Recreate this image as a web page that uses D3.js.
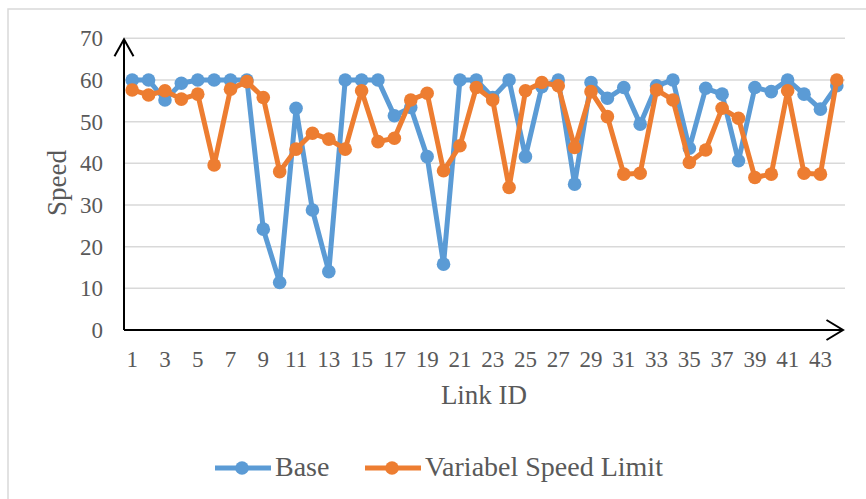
<!DOCTYPE html>
<html>
<head>
<meta charset="utf-8">
<script src="https://cdn.jsdelivr.net/npm/d3@7"></script>
<style>
  body { margin: 0; background: #fff; }
  text { font-family: "Liberation Serif", "Times New Roman", serif; fill: #595959; }
</style>
</head>
<body>
<div id="chart"></div>
<script>
// link ids and the two speed series
var linkIds = d3.range(1, 45);
var baseSpeed = [60, 60, 55.2, 59.2, 60, 60, 60, 60, 24.2, 11.4,
                 53.2, 28.8, 14, 60, 60, 60, 51.4, 53.4, 41.6, 15.8,
                 60, 60, 55.8, 60, 41.6, 58.4, 60, 35, 59.4, 55.6,
                 58.2, 49.4, 58.6, 60, 43.6, 58, 56.6, 40.6, 58.2, 57.2,
                 60, 56.6, 53, 58.6];
var vslSpeed = [57.6, 56.4, 57.4, 55.4, 56.6, 39.6, 57.8, 59.6, 55.8, 38,
                43.4, 47.2, 45.8, 43.4, 57.4, 45.2, 46, 55.2, 56.8, 38.2,
                44.2, 58.2, 55.2, 34.2, 57.4, 59.4, 58.6, 43.8, 57.2, 51.2,
                37.4, 37.6, 57.6, 55.2, 40.2, 43.2, 53.2, 50.8, 36.6, 37.4,
                57.4, 37.6, 37.4, 60];
var yTicks = [0, 10, 20, 30, 40, 50, 60, 70];
var xTicks = linkIds.filter(function(d) { return d % 2 == 1; });
var seriesNames = ["Base", "Variabel Speed Limit"];
var colors = ["#5B9BD5", "#ED7D31"];

var width = 866, height = 499;
var plotLeft = 124, plotRight = 845, plotTop = 38.3, plotBottom = 330;

var svg = d3.select("#chart").append("svg")
  .attr("width", width)
  .attr("height", height);

// chart border (runs off the right/bottom edge like the original)
svg.append("rect")
  .attr("x", 8).attr("y", 9)
  .attr("width", 900).attr("height", 520)
  .attr("fill", "none")
  .attr("stroke", "#d9d9d9")
  .attr("stroke-width", 1.5);

var x = d3.scaleBand().domain(linkIds).range([plotLeft, plotRight]);
var y = d3.scaleLinear().domain([0, 70]).range([plotBottom, plotTop]);
var cx = function(d) { return x(d) + x.bandwidth() / 2; };

// gridlines
svg.append("g").selectAll("line")
  .data(yTicks.slice(1))
  .enter().append("line")
  .attr("x1", plotLeft).attr("x2", plotRight)
  .attr("y1", function(d) { return y(d); })
  .attr("y2", function(d) { return y(d); })
  .attr("stroke", "#d9d9d9")
  .attr("stroke-width", 1.5);

// y tick labels
var yAxis = svg.append("g")
  .attr("transform", "translate(" + plotLeft + ",0)")
  .call(d3.axisLeft(y).tickValues(yTicks).tickSize(0).tickPadding(21));
yAxis.select(".domain").remove();
yAxis.selectAll("text")
  .style("font-size", "23px")
  .style("font-family", "Liberation Serif")
  .attr("fill", "#595959");

// x tick labels
var xAxis = svg.append("g")
  .attr("transform", "translate(0," + plotBottom + ")")
  .call(d3.axisBottom(x).tickValues(xTicks).tickSize(0).tickPadding(21));
xAxis.select(".domain").remove();
xAxis.selectAll("text")
  .style("font-size", "23px")
  .style("font-family", "Liberation Serif")
  .attr("fill", "#595959");

// axis lines with arrow heads
var axisG = svg.append("g")
  .attr("fill", "none")
  .attr("stroke", "#000")
  .attr("stroke-width", 2);
axisG.append("path")
  .attr("d", "M" + plotLeft + "," + plotBottom + "V" + (plotTop + 1));
axisG.append("path")
  .attr("d", "M" + (plotLeft - 9.5) + "," + (plotTop + 18) + "L" + plotLeft + "," + (plotTop + 1) + "L" + (plotLeft + 9.5) + "," + (plotTop + 18));
axisG.append("path")
  .attr("d", "M" + plotLeft + "," + plotBottom + "H" + 843);
axisG.append("path")
  .attr("d", "M" + 826.5 + "," + (plotBottom - 10) + "L" + 843 + "," + plotBottom + "L" + 826.5 + "," + (plotBottom + 10));

// series
var allSeries = [baseSpeed, vslSpeed];
var line = d3.line()
  .x(function(d, i) { return cx(linkIds[i]); })
  .y(function(d) { return y(d); });

allSeries.forEach(function(vals, s) {
  var g = svg.append("g");
  g.append("path")
    .datum(vals)
    .attr("d", line)
    .attr("fill", "none")
    .attr("stroke", colors[s])
    .attr("stroke-width", 5)
    .attr("stroke-linejoin", "round");
  g.selectAll("circle")
    .data(vals)
    .enter().append("circle")
    .attr("cx", function(d, i) { return cx(linkIds[i]); })
    .attr("cy", function(d) { return y(d); })
    .attr("r", 6.8)
    .attr("fill", colors[s]);
});

// axis titles
svg.append("text")
  .attr("x", 484).attr("y", 404)
  .attr("text-anchor", "middle")
  .style("font-size", "27px")
  .text("Link ID");

svg.append("text")
  .attr("transform", "translate(66,183) rotate(-90)")
  .attr("text-anchor", "middle")
  .style("font-size", "27px")
  .text("Speed");

// legend
var legendX = [215, 365];
seriesNames.forEach(function(name, s) {
  var g = svg.append("g").attr("transform", "translate(" + legendX[s] + ",468)");
  g.append("line")
    .attr("x1", 0).attr("x2", 56)
    .attr("stroke", colors[s])
    .attr("stroke-width", 5);
  g.append("circle")
    .attr("cx", 27).attr("r", 6.8)
    .attr("fill", colors[s]);
  g.append("text")
    .attr("x", 60).attr("y", 8)
    .style("font-size", "28px")
    .text(name);
});
</script>
</body>
</html>
